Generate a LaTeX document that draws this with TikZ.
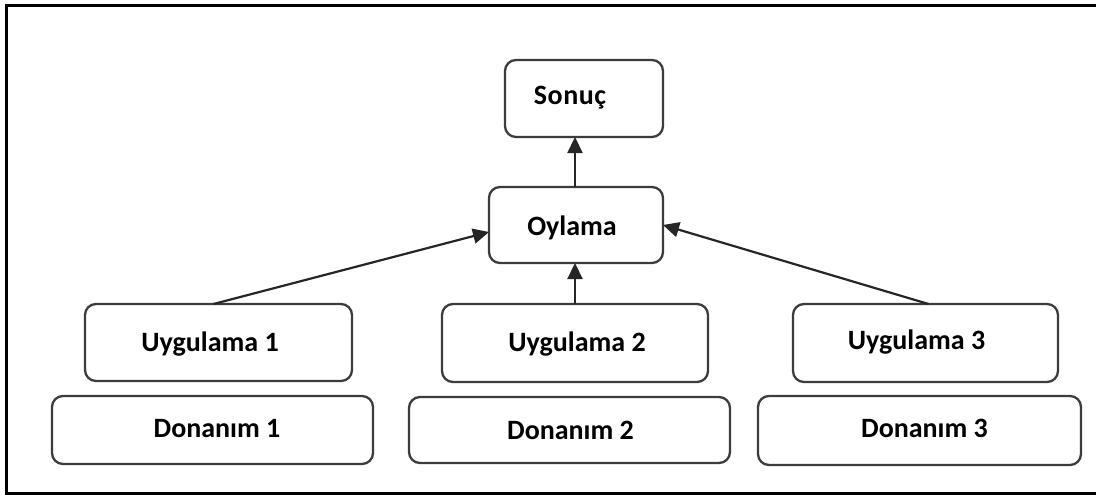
\documentclass[tikz,border=0pt]{standalone}
\usepackage{fontspec}
\setmainfont{Carlito}
\usetikzlibrary{arrows.meta}
\definecolor{edge}{HTML}{3C3C3C}
\definecolor{wire}{HTML}{262626}
\begin{document}
\begin{tikzpicture}[x=1pt,y=-1pt,
  box/.style={draw=edge, line width=2.3pt, rounded corners=11pt, fill=white,
    inner sep=0pt, outer sep=0pt},
  lbl/.style={font=\fontsize{28}{31}\selectfont\bfseries, text height=18pt,
    text depth=0pt, inner sep=0pt},
  flow/.style={draw=wire, line width=2.2pt,
    -{Triangle[length=16pt,width=15pt]}}]
  \useasboundingbox (0,0) rectangle (1096,495);
  % outer frame, open on the right
  \draw[line width=3pt, line join=miter] (1100,5.5) -- (6.5,5.5) -- (6.5,493) -- (1100,493);

  % top level
  \node[box, minimum width=158pt, minimum height=77pt,
        label={[lbl,xshift=-14pt,yshift=3.5pt]center:{\addfontfeature{LetterSpace=2}Sonuç}}] (sonuc) at (584,98.5) {};
  \node[box, minimum width=174pt, minimum height=76pt,
        label={[lbl,xshift=-4pt,yshift=-1.5pt]center:Oylama}] (oylama) at (576,225) {};

  % applications
  \node[box, minimum width=267pt, minimum height=77pt,
        label={[lbl,xshift=-8.5pt]center:Uygulama 1}] (u1) at (218.5,342.5) {};
  \node[box, minimum width=266pt, minimum height=78pt,
        label={[lbl,xshift=2pt,yshift=1pt]center:Uygulama 2}] (u2) at (575,343) {};
  \node[box, minimum width=265pt, minimum height=78pt,
        label={[lbl,xshift=-9pt,yshift=2.5pt]center:Uygulama 3}] (u3) at (925.5,343) {};

  % hardware
  \node[box, minimum width=321pt, minimum height=68pt,
        label={[lbl,xshift=4.5pt,yshift=2pt]center:Donanım 1}] (d1) at (212.5,430) {};
  \node[box, minimum width=321pt, minimum height=66pt,
        label={[lbl,xshift=1pt]center:Donanım 2}] (d2) at (569.5,430) {};
  \node[box, minimum width=323pt, minimum height=69pt,
        label={[lbl,xshift=5pt,yshift=2.5pt]center:Donanım 3}] (d3) at (919.5,430.5) {};

  % connectors
  \draw[flow] ([xshift=-1pt]oylama.north) -- ([xshift=-1pt]oylama.north |- sonuc.south);
  \draw[flow] (u2.north) -- (u2.north |- oylama.south);
  \draw[flow] ([xshift=-5pt]u1.north) -- ([yshift=-7pt]oylama.west);
  \draw[flow] ([xshift=3pt]u3.north) -- (oylama.east);
\end{tikzpicture}
\end{document}
